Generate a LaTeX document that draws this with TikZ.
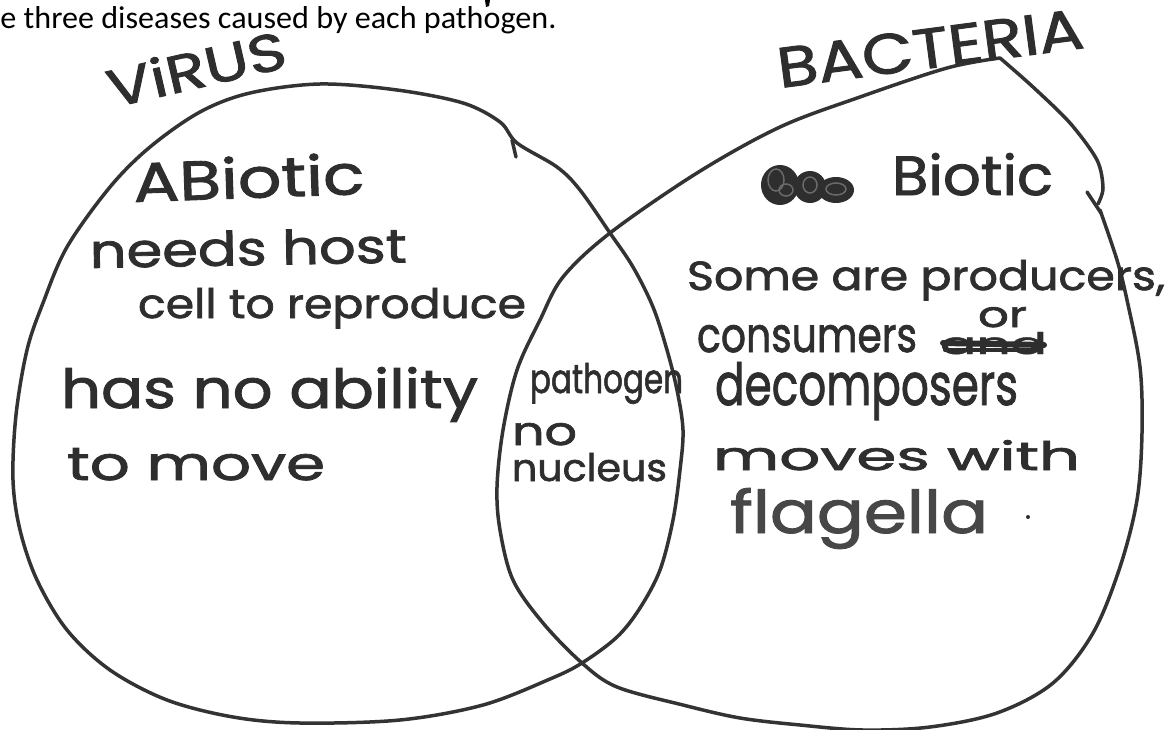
\documentclass[tikz,border=0pt]{standalone}
\usepackage{fontspec}
\usepackage{graphicx}
\newfontfamily\hand{Poppins}[FakeBold=1.6]
\newfontfamily\print{Carlito}
\definecolor{ink}{HTML}{2E2E2E}
\definecolor{pen}{HTML}{333333}
\definecolor{lightink}{HTML}{474747}
\definecolor{scribhi}{HTML}{6A6A6A}
\newlength\pxu
\setlength\pxu{0.02cm}
\newcommand\hw[3]{\resizebox{#1\pxu}{#2\pxu}{#3}}
\tikzset{
  hand/.style={inner sep=0pt, outer sep=0pt, anchor=base west, text=ink, font=\hand},
  outline/.style={draw=pen, line width=0.07cm, line cap=round, line join=round},
  scrib/.style={draw=scribhi, line width=0.03cm},
}
\begin{document}
\begin{tikzpicture}[x=0.02cm,y=-0.02cm]
\useasboundingbox (0,0) rectangle (1167,730);
\fill[white] (0,0) rectangle (1167,730);

% header line
\node[inner sep=0pt, anchor=base west, font=\print] (head) at (0,29) {\hw{556}{22}{e three diseases caused by each pathogen.}};
\fill[black] (485,0) -- (490,0) -- (489,6) -- (486,7) -- cycle;

% left shape (virus)
\draw[outline] plot[smooth cycle, tension=0.55] coordinates {
 (320,84) (397,90) (463,103) (500,122) (517,143) (557,167) (580,190) (610,233)
 (633,267) (653,307) (667,350) (677,390) (683,430) (680,470) (673,520) (660,570)
 (640,608) (617,637) (582,663) (550,679) (483,705) (400,720) (300,723) (233,717)
 (167,700) (110,670) (67,630) (37,580) (20,530) (13,480) (16,415) (27,350)
 (43,303) (67,247) (110,187) (150,147) (200,112) (250,93)};
\draw[outline] (512,140) -- (516,157);

% right shape (bacteria)
\draw[outline] plot[smooth, tension=0.55] coordinates {
 (1100,210) (1117,260) (1127,300) (1140,367) (1142,433) (1137,500) (1120,567)
 (1093,633) (1053,683) (997,713) (930,727) (863,730) (800,725) (740,718) (683,705)
 (617,687) (582,663) (543,623) (513,580) (500,530) (497,487) (503,430) (517,370)
 (540,320) (563,277) (610,233) (697,173) (780,127) (860,97) (947,68) (1000,58)};
\draw[outline] plot[smooth, tension=0.5] coordinates {
 (1000,58) (1033,87) (1070,123) (1097,160) (1103,188) (1098,204)};
\draw[outline] (1087,192) -- (1101,213);

% titles
\node[hand, rotate=13] (virus) at (112,108) {\hw{182}{40}{ViRUS}};
\node[hand, rotate=7.5] (bacteria) at (780,88) {\hw{308}{40}{BACTERIA}};

% virus side
\node[hand, rotate=2] (abiotic) at (134,202) {\hw{231}{42}{ABiotic}};
\node[hand, rotate=1] (needs) at (90,268) {\hw{317}{35}{needs host}};
\node[hand] (cell) at (138,318) {\hw{388}{30}{cell to reproduce}};
\node[hand] (hasno) at (61,408) {\hw{417}{41}{has no ability}};
\node[hand] (tomove) at (67,480) {\hw{258}{32}{to move}};

% intersection
\node[hand] (pathogen) at (530,393) {\hw{153}{30}{pathogen}};
\node[hand] (no) at (512,445) {\hw{65}{22}{no}};
\node[hand] (nucleus) at (512,481) {\hw{155}{28}{nucleus}};

% bacteria side: scribbled-out word
\fill[ink] (780,185) ellipse [x radius=19, y radius=20];
\fill[ink] (810,187) ellipse [x radius=16, y radius=16];
\fill[ink] (836,190) ellipse [x radius=18, y radius=13];
\draw[scrib] (776,180) ellipse [x radius=8, y radius=11];
\draw[scrib] (786,190) ellipse [x radius=7, y radius=6];
\draw[scrib] (810,185) ellipse [x radius=7, y radius=8];
\draw[scrib] (836,189) ellipse [x radius=10, y radius=6];
\node[hand] (biotic) at (892,195) {\hw{161}{42}{Biotic}};
\node[hand] (some) at (687,290) {\hw{478}{30}{Some are producers,}};
\node[hand] (consumers) at (697,352) {\hw{220}{27}{consumers}};
\node[hand] (and) at (940,354) {\hw{107}{22}{and}};
\draw[ink, line width=0.12cm, line cap=round] (943,343) -- (1044,345);
\draw[ink, line width=0.08cm, line cap=round] (945,350) -- (1040,350);
\node[hand] (or) at (978,327) {\hw{49}{20}{or}};
\node[hand] (decomposers) at (715,405) {\hw{303}{43}{decomposers}};
\node[hand] (moves) at (713,470) {\hw{367}{30}{moves with}};
\node[hand, text=lightink] (flagella) at (730,533) {\hw{258}{45}{flagella}};
\fill[ink] (1028,517) circle [radius=2];
\end{tikzpicture}
\end{document}
